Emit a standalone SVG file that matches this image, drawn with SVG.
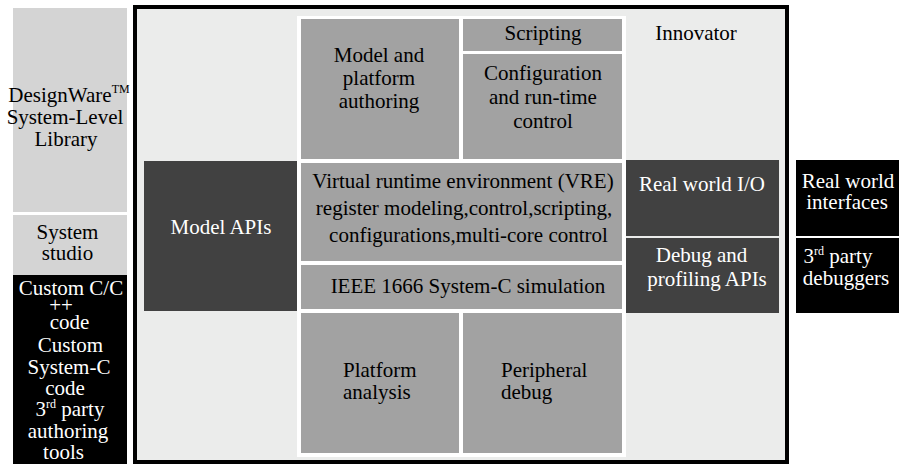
<svg xmlns="http://www.w3.org/2000/svg" width="899" height="464" viewBox="0 0 899 464">
<style>
text { font-family: "Liberation Serif", "Times New Roman", serif; font-size: 21px; text-anchor: middle; fill: #000; }
text.w { fill: #fff; }
text.l { text-anchor: start; }
.sup { font-size: 12px; }
.lt { fill: #d4d4d4; }
.md { fill: #a2a2a2; }
.dk { fill: #414141; }
.bk { fill: #000; }
</style>
<rect width="899" height="464" fill="#fff"/>

<g id="designware">
<rect class="lt" x="13" y="8" width="114" height="204"/>
<text x="69" y="102">DesignWare<tspan class="sup" dy="-9">TM</tspan></text>
<text x="65" y="124">System-Level</text>
<text x="66" y="146">Library</text>
</g>

<g id="system-studio">
<rect class="lt" x="13" y="215" width="114" height="60"/>
<text x="67.5" y="239">System</text>
<text x="67.5" y="260">studio</text>
</g>

<g id="custom-code">
<rect class="bk" x="13" y="275" width="114" height="189"/>
<text class="w" x="71" y="295">Custom C/C</text>
<text class="w" x="61" y="312">++</text>
<text class="w" x="69.5" y="329">code</text>
<text class="w" x="70.5" y="352">Custom</text>
<text class="w" x="69" y="374">System-C</text>
<text class="w" x="65" y="395">code</text>
<text class="w" x="70" y="416">3<tspan class="sup" dy="-8">rd</tspan><tspan dy="8"> party</tspan></text>
<text class="w" x="68" y="438">authoring</text>
<text class="w" x="63.5" y="459">tools</text>
</g>

<g id="innovator">
<rect x="135" y="7" width="652" height="455" fill="#ebeceb" stroke="#000" stroke-width="4"/>
<text x="696" y="40">Innovator</text>
<rect x="297" y="16" width="329" height="441" fill="#fff"/>
</g>

<g id="model-authoring">
<rect class="md" x="301" y="19" width="158" height="140"/>
<text x="379" y="61.5">Model and</text>
<text x="379" y="84.5">platform</text>
<text x="379" y="108">authoring</text>
</g>

<g id="scripting">
<rect class="md" x="463" y="19" width="159" height="32"/>
<text x="543" y="40">Scripting</text>
</g>

<g id="configuration">
<rect class="md" x="463" y="54" width="159" height="105"/>
<text x="543" y="80">Configuration</text>
<text x="543" y="104">and run-time</text>
<text x="543" y="128">control</text>
</g>

<g id="vre">
<rect class="md" x="301" y="163" width="321" height="98"/>
<text x="463" y="187.5">Virtual runtime environment (VRE)</text>
<text x="464" y="214.5">register modeling,control,scripting,</text>
<text x="468.5" y="242">configurations,multi-core control</text>
</g>

<g id="ieee">
<rect class="md" x="301" y="265" width="321" height="44"/>
<text x="468" y="293">IEEE 1666 System-C simulation</text>
</g>

<g id="platform-analysis">
<rect class="md" x="301" y="313" width="158" height="140"/>
<text class="l" x="343" y="377">Platform</text>
<text class="l" x="343" y="399">analysis</text>
</g>

<g id="peripheral-debug">
<rect class="md" x="463" y="313" width="159" height="140"/>
<text class="l" x="501" y="377">Peripheral</text>
<text class="l" x="501" y="399">debug</text>
</g>

<g id="model-apis">
<rect class="dk" x="144" y="161" width="153" height="150"/>
<text class="w" x="221" y="234">Model APIs</text>
</g>

<g id="real-world-io">
<rect class="dk" x="626" y="160" width="153" height="76"/>
<text class="w" x="702" y="191">Real world I/O</text>
</g>

<g id="debug-apis">
<rect class="dk" x="626" y="238" width="153" height="75"/>
<text class="w" x="701.5" y="262">Debug and</text>
<text class="w" x="707" y="286">profiling APIs</text>
</g>

<g id="real-world-interfaces">
<rect class="bk" x="796" y="160" width="103" height="76"/>
<text class="w" x="848" y="188">Real world</text>
<text class="w" x="847" y="209">interfaces</text>
</g>

<g id="third-party-debuggers">
<rect class="bk" x="796" y="238" width="103" height="75"/>
<text class="w" x="838" y="263">3<tspan class="sup" dy="-8">rd</tspan><tspan dy="8"> party</tspan></text>
<text class="w" x="846" y="285">debuggers</text>
</g>

<g id="connectors"></g>
</svg>
